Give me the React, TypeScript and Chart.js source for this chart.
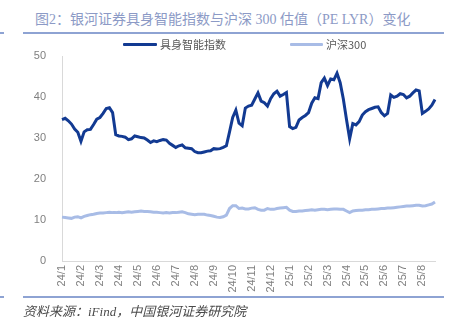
import React, { useEffect, useRef } from "react";
import { Chart, registerables } from "chart.js";

Chart.register(...registerables);

const MONTHS = [
  "24/1", "24/2", "24/3", "24/4", "24/5", "24/6", "24/7", "24/8", "24/9", "24/10",
  "24/11", "24/12", "25/1", "25/2", "25/3", "25/4", "25/5", "25/6", "25/7", "25/8",
];
const POINTS_PER_MONTH = 6;

const EMBODIED = [
  34.5, 34.8, 34.2, 33.4, 32.2, 31.4, 29.2, 31.5, 32.0, 32.1,
  33.3, 34.6, 35.0, 36.0, 37.2, 37.4, 36.2, 30.8, 30.5, 30.4,
  30.2, 29.6, 29.8, 30.5, 30.3, 30.1, 30.0, 29.5, 28.9, 29.3,
  29.1, 29.4, 29.6, 29.5, 28.7, 28.2, 27.7, 28.1, 28.3, 27.6,
  27.5, 27.4, 26.7, 26.4, 26.4, 26.6, 26.8, 26.9, 27.4, 27.3,
  27.4, 27.7, 28.1, 31.5, 35.0, 36.8, 33.6, 33.0, 37.3, 37.8,
  38.0, 39.5, 41.0, 39.0, 38.6, 37.8, 39.6, 40.8, 41.4, 40.2,
  40.6, 41.1, 32.8, 32.3, 32.6, 34.4, 35.0, 35.5, 36.2, 38.5,
  39.8, 39.6, 43.5, 44.6, 42.8, 44.4, 44.2, 45.8, 43.5, 39.5,
  34.5, 29.8, 33.5, 33.2, 34.0, 35.6, 36.4, 36.9, 37.2, 37.5,
  37.6, 36.2, 35.4, 36.0, 40.5, 39.9, 40.2, 40.8, 40.6, 39.8,
  40.2, 41.0, 41.7, 41.5, 36.0, 36.5, 37.1, 38.0, 39.4,
];

const CSI300 = [
  10.7, 10.6, 10.5, 10.4, 10.7, 10.8, 10.5, 10.9, 11.1, 11.3,
  11.4, 11.6, 11.7, 11.7, 11.8, 11.9, 11.8, 11.8, 11.9, 11.8,
  11.9, 12.0, 11.9, 12.0, 12.1, 12.2, 12.1, 12.1, 12.0, 11.9,
  11.9, 11.8, 11.7, 11.8, 11.7, 11.8, 11.8, 11.9, 12.0, 11.8,
  11.5, 11.4, 11.3, 11.4, 11.4, 11.4, 11.2, 11.1, 10.9, 10.7,
  10.6, 10.8, 11.2, 12.8, 13.5, 13.5, 12.8, 12.9, 12.7, 12.7,
  12.9, 13.0, 12.6, 12.4, 12.4, 12.8, 12.6, 12.6, 12.8, 12.9,
  13.0, 13.1, 12.4, 12.1, 12.1, 12.2, 12.2, 12.3, 12.4, 12.5,
  12.4, 12.5, 12.6, 12.6, 12.5, 12.6, 12.7, 12.7, 12.6, 12.6,
  12.2, 11.8, 12.2, 12.3, 12.4, 12.4, 12.5, 12.5, 12.6, 12.6,
  12.7, 12.8, 12.8, 12.9, 12.9, 13.0, 13.1, 13.2, 13.3, 13.4,
  13.4, 13.5, 13.6, 13.6, 13.4, 13.5, 13.7, 13.9, 14.4,
];

const SERIES_NAMES = ["具身智能指数", "沪深300"];
const Y_MIN = 0;
const Y_MAX = 50;
const Y_STEP = 10;

const TITLE = "图2：银河证券具身智能指数与沪深 300 估值（PE LYR）变化";
const SOURCE = "资料来源：iFind，中国银河证券研究院";

const CATEGORIES = MONTHS.flatMap((m) =>
  Array.from({ length: POINTS_PER_MONTH }, (_, k) => (k === 0 ? m : m + "#" + k))
).slice(0, EMBODIED.length);

const DARK = "#123a92";
const LIGHT = "#a8bce6";
const RULE = "#8ea3d3";

export default function App() {
  const canvasRef = useRef<HTMLCanvasElement | null>(null);

  useEffect(() => {
    const canvas = canvasRef.current;
    if (!canvas) return;
    const chart = new Chart(canvas, {
      type: "line",
      data: {
        labels: CATEGORIES,
        datasets: [
          {
            label: SERIES_NAMES[0],
            data: EMBODIED,
            borderColor: DARK,
            backgroundColor: DARK,
            borderWidth: 3,
            pointRadius: 0,
            tension: 0,
          },
          {
            label: SERIES_NAMES[1],
            data: CSI300,
            borderColor: LIGHT,
            backgroundColor: LIGHT,
            borderWidth: 3,
            pointRadius: 0,
            tension: 0,
          },
        ],
      },
      options: {
        animation: false,
        responsive: false,
        devicePixelRatio: 1,
        layout: { padding: { left: 32, right: 25, top: 56, bottom: 26 } },
        plugins: {
          legend: { display: false },
          tooltip: { enabled: false },
          title: { display: false },
        },
        scales: {
          x: {
            type: "category",
            grid: { display: false, drawTicks: false },
            border: { display: true, color: "#d9d9d9", width: 1 },
            ticks: {
              autoSkip: false,
              minRotation: 90,
              maxRotation: 90,
              padding: 4,
              color: "#7f7f7f",
              font: { family: "'Liberation Sans', Arial, sans-serif", size: 11 },
              callback: (_v: any, index: number) => {
                const l = CATEGORIES[index];
                return l && !l.includes("#") ? l : null;
              },
            },
            afterFit: (scale: any) => {
              scale.height = 40;
            },
          },
          y: {
            min: Y_MIN,
            max: Y_MAX,
            grid: { display: false, drawTicks: false },
            border: { display: true, color: "#d9d9d9", width: 1 },
            ticks: {
              stepSize: Y_STEP,
              padding: 16,
              color: "#7f7f7f",
              font: { family: "'Liberation Sans', Arial, sans-serif", size: 11 },
            },
            afterFit: (scale: any) => {
              scale.width = 30;
            },
          },
        },
      },
    });
    return () => chart.destroy();
  }, []);

  const legendText: React.CSSProperties = {
    position: "absolute",
    top: 37,
    fontFamily: "'Noto Sans CJK SC', sans-serif",
    fontSize: 11,
    color: "#595959",
    lineHeight: "15px",
    whiteSpace: "nowrap",
  };

  return (
    <div
      style={{
        position: "absolute",
        left: 0,
        top: 0,
        width: 460,
        height: 327,
        background: "#ffffff",
        overflow: "hidden",
      }}
    >
      <div
        style={{
          position: "absolute",
          left: 35,
          top: 10,
          fontFamily: "'Liberation Serif', 'Noto Sans CJK SC', serif",
          fontSize: 14,
          color: "#8c9ac6",
          whiteSpace: "nowrap",
          lineHeight: "20px",
        }}
      >
        {TITLE}
      </div>
      <div style={{ position: "absolute", left: 23, top: 32, width: 421, height: 2, background: RULE }} />
      <div style={{ position: "absolute", left: 0, top: 32, width: 4, height: 2, background: RULE }} />
      <canvas
        ref={canvasRef}
        width={460}
        height={327}
        style={{ position: "absolute", left: 0, top: 0, width: 460, height: 327 }}
      />
      <div style={{ position: "absolute", left: 123, top: 43, width: 34, height: 3, background: DARK, borderRadius: 1 }} />
      <div style={{ ...legendText, left: 160 }}>{SERIES_NAMES[0]}</div>
      <div style={{ position: "absolute", left: 290, top: 43, width: 33, height: 3, background: LIGHT, borderRadius: 1 }} />
      <div style={{ ...legendText, left: 326 }}>{SERIES_NAMES[1]}</div>
      <div style={{ position: "absolute", left: 23, top: 296, width: 421, height: 2, background: RULE }} />
      <div style={{ position: "absolute", left: 0, top: 296, width: 4, height: 2, background: RULE }} />
      <div
        style={{
          position: "absolute",
          left: 23,
          top: 303,
          fontFamily: "'Liberation Serif', 'Noto Sans CJK SC', serif",
          fontStyle: "italic",
          fontSize: 13,
          color: "#4a4a4a",
          whiteSpace: "nowrap",
          lineHeight: "18px",
        }}
      >
        {SOURCE}
      </div>
    </div>
  );
}
